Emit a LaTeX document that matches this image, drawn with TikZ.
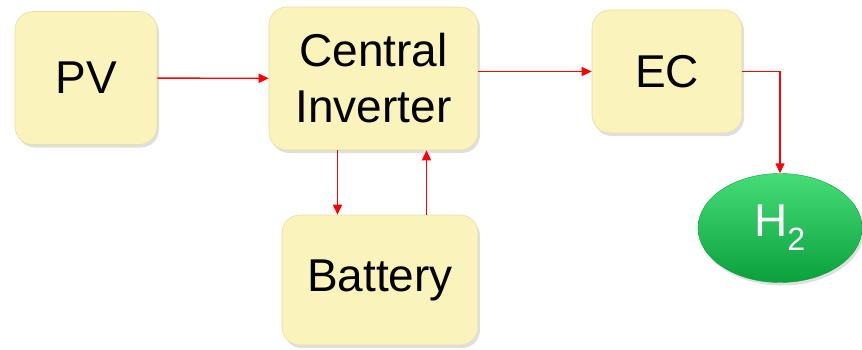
\documentclass[tikz,border=0pt]{standalone}
\usepackage{fontspec}
\setmainfont{Liberation Sans}
\usetikzlibrary{arrows.meta,shapes.geometric,shadows}
\definecolor{boxfill}{RGB}{250,243,188}
\definecolor{boxedge}{RGB}{232,224,160}
\definecolor{h2top}{RGB}{70,220,120}
\definecolor{h2bot}{RGB}{10,160,60}
\begin{document}
\begin{tikzpicture}[x=1pt, y=1pt, font=\fontsize{46}{56}\selectfont, >={Triangle[length=10pt,width=9pt]},
  every node/.style={align=center},
  blockbox/.style={rounded corners=18pt, fill=boxfill, draw=boxedge, line width=0.6pt,
    drop shadow={shadow xshift=2pt, shadow yshift=-3pt, opacity=0.25}},
  flow/.style={->, draw=red, line width=1.4pt}]
  \useasboundingbox (0,0) rectangle (862,349);
  \node[blockbox, minimum width=142pt, minimum height=133pt] (pv) at (86, 271) {PV};
  \node[blockbox, minimum width=209pt, minimum height=143pt] (inv) at (373.5, 270.5) {Central\\Inverter};
  \node[blockbox, minimum width=150pt, minimum height=123pt] (ec) at (667, 277.5) {EC};
  \node[blockbox, minimum width=196pt, minimum height=130pt] (bat) at (380, 69) {Battery};
  \node[ellipse, top color=h2top, bottom color=h2bot, draw=h2bot, text=white,
    minimum width=164pt, minimum height=109pt,
    drop shadow={shadow xshift=2pt, shadow yshift=-3pt, opacity=0.25}] (h2) at (780, 121) {H\textsubscript{2}};
  \draw[flow] (pv) -- (inv);
  \draw[flow] (inv.east |- ec.west) -- (ec.west);
  \draw[flow] (ec.east) -| (h2.north);
  \draw[flow] ([xshift=-36pt]inv.south) -- ([xshift=-36pt]inv.south |- bat.north);
  \draw[flow] ([xshift=53pt]inv.south |- bat.north) -- ([xshift=53pt]inv.south);
\end{tikzpicture}
\end{document}
